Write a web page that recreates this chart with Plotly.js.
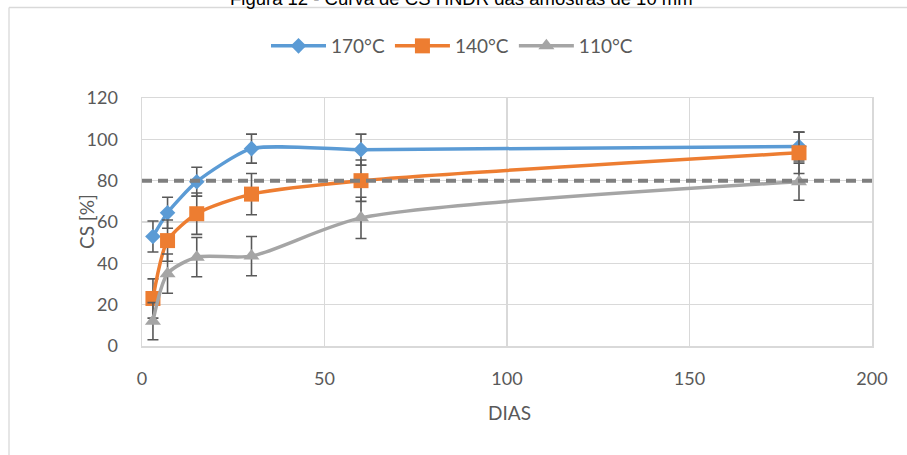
<!DOCTYPE html>
<html>
<head>
<meta charset="utf-8">
<script src="https://cdn.plot.ly/plotly-3.0.1.min.js"></script>
<style>
  html, body { margin: 0; padding: 0; background: #fff; }
  #chart { width: 907px; height: 455px; }
</style>
</head>
<body>
<div id="chart"></div>
<script>
// ---- data ----
const dias   = [3, 7, 15, 30, 60, 180];
const cs170  = [53, 64.5, 79.5, 95.5, 95, 96.5];
const cs140  = [23, 51, 64, 73.5, 80, 93.5];
const cs110  = [12, 35, 43, 43.5, 62, 79.5];
const err170 = [7.5, 7.5, 7, 7, 7.5, 7];
const err140 = [9.5, 10, 10, 10, 10, 10];
const err110 = [9, 9.5, 9.5, 9.5, 10, 9];
const refX = [0, 200];
const refY = [80, 80];
const seriesNames = ['170°C', '140°C', '110°C'];
const titleText = 'Figura 12 - Curva de CS HNDR das amostras de 10 mm';
const xTitle = 'DIAS';
const yTitle = 'CS [%]';

// ---- layout constants ----
const W = 907, H = 455;
const L = 142, R = 35, T = 98, B = 109;
const plotW = W - L - R, plotH = H - T - B;
const px2x = p => (p - L) / plotW;
const py2y = p => (H - B - p) / plotH;

const FONT = 'Lato, "Liberation Sans", Arial, sans-serif';
const TXT = '#595959';

function errBar(arr) {
  return { type: 'data', array: arr, visible: true, color: '#595959', thickness: 1.6, width: 5.5 };
}

const traces = [
  {
    x: dias, y: cs170, name: seriesNames[0], type: 'scatter', mode: 'lines+markers',
    line: { color: '#5B9BD5', width: 3.5, shape: 'spline', smoothing: 0.6 },
    marker: { symbol: 'diamond', size: 12, color: '#5B9BD5' },
    error_y: errBar(err170)
  },
  {
    x: dias, y: cs140, name: seriesNames[1], type: 'scatter', mode: 'lines+markers',
    line: { color: '#ED7D31', width: 3.5, shape: 'spline', smoothing: 0.7 },
    marker: { symbol: 'square', size: 15, color: '#ED7D31' },
    error_y: errBar(err140)
  },
  {
    x: dias, y: cs110, name: seriesNames[2], type: 'scatter', mode: 'lines+markers',
    line: { color: '#A5A5A5', width: 3.5, shape: 'spline', smoothing: 0.7 },
    marker: { symbol: 'triangle-up', size: 14, color: '#A5A5A5' },
    error_y: errBar(err110)
  },
  {
    x: refX, y: refY, type: 'scatter', mode: 'lines', showlegend: false, hoverinfo: 'skip',
    line: { color: '#7F7F7F', width: 4, dash: '10px,6px' },
    cliponaxis: false
  }
];

const axisCommon = {
  showgrid: true, gridcolor: '#D9D9D9', gridwidth: 1.5,
  zeroline: false, showline: true, mirror: true, linecolor: '#D9D9D9', linewidth: 1.5,
  ticks: 'outside', tickcolor: 'rgba(0,0,0,0)',
  tickfont: { family: FONT, size: 18, color: TXT },
  fixedrange: true
};

const layout = {
  width: W, height: H,
  margin: { l: L, r: R, t: T, b: B, pad: 0 },
  paper_bgcolor: '#fff', plot_bgcolor: '#fff',
  showlegend: true,
  legend: {
    orientation: 'h', x: px2x(452), xanchor: 'center', y: py2y(46), yanchor: 'middle',
    font: { family: FONT, size: 19, color: TXT }, itemwidth: 55, bgcolor: 'rgba(0,0,0,0)'
  },
  xaxis: Object.assign({}, axisCommon, { range: [0, 200], dtick: 50, tick0: 0, ticklen: 16 }),
  yaxis: Object.assign({}, axisCommon, { range: [0, 120], dtick: 20, tick0: 0, ticklen: 19 }),
  annotations: [
    { text: titleText, xref: 'paper', yref: 'paper', x: px2x(461), y: py2y(11), xanchor: 'center', yanchor: 'bottom',
      showarrow: false, font: { family: '"Liberation Sans", Arial, sans-serif', size: 18.5, color: '#000' } },
    { text: xTitle, xref: 'paper', yref: 'paper', x: px2x(509), y: py2y(413), xanchor: 'center', yanchor: 'middle',
      showarrow: false, font: { family: FONT, size: 19, color: TXT } },
    { text: yTitle, xref: 'paper', yref: 'paper', x: px2x(86), y: py2y(222), xanchor: 'center', yanchor: 'middle',
      textangle: -90, showarrow: false, font: { family: FONT, size: 19, color: TXT } }
  ],
  shapes: [
    { type: 'line', xref: 'paper', yref: 'paper', x0: px2x(9), x1: px2x(910), y0: py2y(7.5), y1: py2y(7.5),
      line: { color: '#D9D9D9', width: 1.3 } },
    { type: 'line', xref: 'paper', yref: 'paper', x0: px2x(9), x1: px2x(9), y0: py2y(7.5), y1: py2y(460),
      line: { color: '#D9D9D9', width: 1.3 } }
  ]
};

Plotly.newPlot('chart', traces, layout, { staticPlot: true, displayModeBar: false });
</script>
</body>
</html>
